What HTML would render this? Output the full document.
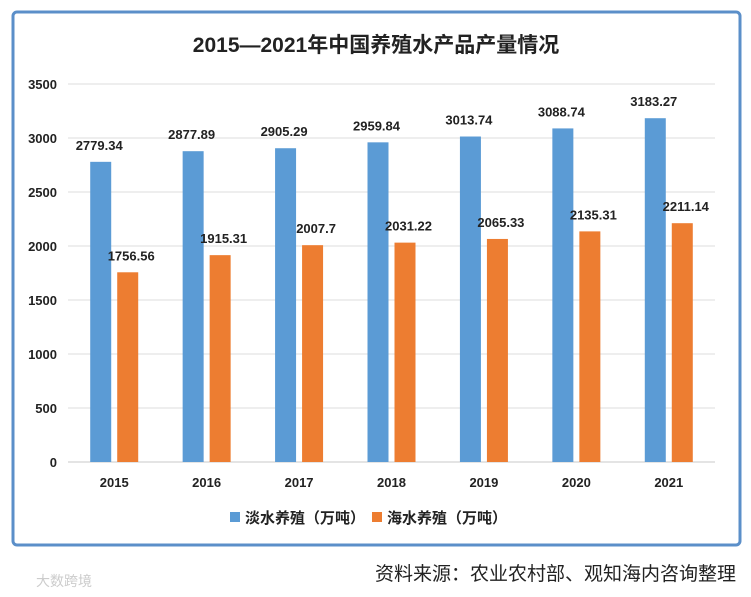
<!DOCTYPE html>
<html><head><meta charset="utf-8"><style>
body{margin:0;background:#fff;width:751px;height:597px;overflow:hidden;font-family:"Liberation Sans","Noto Sans CJK SC",sans-serif;}
</style></head><body>
<svg width="751" height="597" style="position:absolute;left:0;top:0">
<rect x="13" y="12" width="727" height="533" rx="4" fill="#fff" stroke="#5b8fc9" stroke-width="3"/>
<text x="376" y="52" text-anchor="middle" font-size="21" font-weight="bold" fill="#222" font-family="Liberation Sans,Noto Sans CJK SC,sans-serif">2015—2021年中国养殖水产品产量情况</text>
<g id="grid"></g><g id="bars"></g>
<g>
<rect x="230" y="512" width="10" height="10" fill="#5b9bd5"/>
<text x="245" y="523" font-size="15" font-weight="bold" fill="#222" font-family="Liberation Sans,Noto Sans CJK SC,sans-serif">淡水养殖（万吨）</text>
<rect x="372" y="512" width="10" height="10" fill="#ed7d31"/>
<text x="387" y="523" font-size="15" font-weight="bold" fill="#222" font-family="Liberation Sans,Noto Sans CJK SC,sans-serif">海水养殖（万吨）</text>
</g>
<text x="736" y="580" text-anchor="end" font-size="19" fill="#222" font-family="Liberation Sans,Noto Sans CJK SC,sans-serif">资料来源：农业农村部、观知海内咨询整理</text>
<text x="36" y="586" font-size="14" fill="#ccc" font-family="Liberation Sans,Noto Sans CJK SC,sans-serif">大数跨境</text>
</svg>
<script>
const years=["2015","2016","2017","2018","2019","2020","2021"];
const freshwater=[2779.34,2877.89,2905.29,2959.84,3013.74,3088.74,3183.27];
const marine=[1756.56,1915.31,2007.7,2031.22,2065.33,2135.31,2211.14];
const freshLabels=["2779.34","2877.89","2905.29","2959.84","3013.74","3088.74","3183.27"];
const marineLabels=["1756.56","1915.31","2007.7","2031.22","2065.33","2135.31","2211.14"];
const yTicks=[0,500,1000,1500,2000,2500,3000,3500];
const NS="http://www.w3.org/2000/svg";
const x0=68,x1=715,y0=462,yMax=3500,yTop=84;
const y=v=>y0-(v/yMax)*(y0-yTop);
const step=(x1-x0)/years.length;
const cx=i=>x0+step*(i+0.5);
function mk(t,a,p){const e=document.createElementNS(NS,t);for(const k in a)e.setAttribute(k,a[k]);p.appendChild(e);return e;}
const F="Liberation Sans,Noto Sans CJK SC,sans-serif";
const grid=document.getElementById('grid'),bars=document.getElementById('bars');
yTicks.forEach(v=>{
 const l=mk('line',{x1:x0,x2:x1,y1:y(v),y2:y(v),stroke:v===0?'#c8c8c8':'#dcdcdc','stroke-width':1},grid);
 
 
 const t=mk('text',{x:57,y:y(v)+5,'text-anchor':'end','font-size':13,'font-weight':'bold',fill:'#222','font-family':F},grid);
 t.textContent=v;
 
 
});
years.forEach((yr,i)=>{
 const c=cx(i);
 const b=mk('rect',{x:c-24,y:y(freshwater[i]),width:21,height:y0-y(freshwater[i]),fill:'#5b9bd5'},bars);
 
 
 const o=mk('rect',{x:c+3,y:y(marine[i]),width:21,height:y0-y(marine[i]),fill:'#ed7d31'},bars);
 
 
 const t1=mk('text',{x:c-15,y:y(freshwater[i])-12,'text-anchor':'middle','font-size':13,'font-weight':'bold',fill:'#222','font-family':F},bars);
 t1.textContent=freshLabels[i];
 
 
 const t2=mk('text',{x:c+17,y:y(marine[i])-12,'text-anchor':'middle','font-size':13,'font-weight':'bold',fill:'#222','font-family':F},bars);
 t2.textContent=marineLabels[i];
 
 
 const tx=mk('text',{x:c,y:487,'text-anchor':'middle','font-size':13,'font-weight':'bold',fill:'#222','font-family':F},bars);
 tx.textContent=yr;
 
 
});
</script>
</body></html>
